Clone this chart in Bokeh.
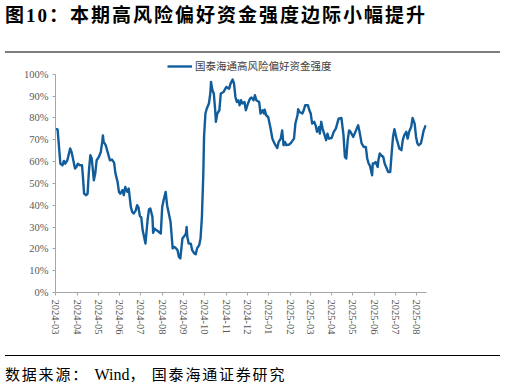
import math
import pandas as pd
from bokeh.plotting import figure
from bokeh.models import (Div, FixedTicker, DatetimeTickFormatter, PrintfTickFormatter,
                          Legend, LegendItem, ColumnDataSource, Range1d)
from bokeh.layouts import column
from bokeh.embed import file_html
from bokeh.resources import INLINE

title_text = "图10：本期高风险偏好资金强度边际小幅提升"
source_text = ("数据来源：&nbsp;<span style=\"letter-spacing:0;font-size:16px\">Wind</span>，"
               "&nbsp;国泰海通证券研究")
series_name = "国泰海通高风险偏好资金强度"

dates = [
    "2024-03-01", "2024-03-04", "2024-03-08", "2024-03-11", "2024-03-13", "2024-03-15", "2024-03-18",
    "2024-03-22", "2024-03-24", "2024-03-26", "2024-03-29", "2024-03-31", "2024-04-02", "2024-04-05",
    "2024-04-08", "2024-04-09", "2024-04-11", "2024-04-14", "2024-04-16", "2024-04-18", "2024-04-20",
    "2024-04-22", "2024-04-25", "2024-04-27", "2024-04-29", "2024-05-02", "2024-05-05", "2024-05-07",
    "2024-05-08", "2024-05-09", "2024-05-12", "2024-05-14", "2024-05-18", "2024-05-21", "2024-05-24",
    "2024-05-26", "2024-05-29", "2024-05-31", "2024-06-02", "2024-06-05", "2024-06-07", "2024-06-09",
    "2024-06-12", "2024-06-14", "2024-06-17", "2024-06-19", "2024-06-21", "2024-06-24", "2024-06-26",
    "2024-06-28", "2024-06-30", "2024-07-02", "2024-07-04", "2024-07-06", "2024-07-08", "2024-07-11",
    "2024-07-13", "2024-07-15", "2024-07-18", "2024-07-19", "2024-07-21", "2024-07-24", "2024-07-27",
    "2024-07-30", "2024-08-01", "2024-08-03", "2024-08-06", "2024-08-08", "2024-08-11", "2024-08-13",
    "2024-08-16", "2024-08-18", "2024-08-20", "2024-08-23", "2024-08-25", "2024-08-27", "2024-08-30",
    "2024-09-01", "2024-09-04", "2024-09-05", "2024-09-06", "2024-09-08", "2024-09-11", "2024-09-13",
    "2024-09-16", "2024-09-18", "2024-09-20", "2024-09-23", "2024-09-25", "2024-09-27", "2024-09-29",
    "2024-09-30", "2024-10-02", "2024-10-04", "2024-10-07", "2024-10-09", "2024-10-10", "2024-10-12",
    "2024-10-14", "2024-10-16", "2024-10-17", "2024-10-19", "2024-10-22", "2024-10-24", "2024-10-28",
    "2024-11-01", "2024-11-05", "2024-11-07", "2024-11-10", "2024-11-12", "2024-11-14", "2024-11-16",
    "2024-11-18", "2024-11-20", "2024-11-22", "2024-11-24", "2024-11-27", "2024-11-29", "2024-12-02",
    "2024-12-05", "2024-12-07", "2024-12-10", "2024-12-12", "2024-12-14", "2024-12-18", "2024-12-20",
    "2024-12-23", "2024-12-25", "2024-12-26", "2024-12-28", "2024-12-31", "2025-01-03", "2025-01-06",
    "2025-01-09", "2025-01-13", "2025-01-15", "2025-01-18", "2025-01-20", "2025-01-22", "2025-01-24",
    "2025-01-26", "2025-01-30", "2025-02-02", "2025-02-06", "2025-02-08", "2025-02-11", "2025-02-12",
    "2025-02-14", "2025-02-18", "2025-02-20", "2025-02-22", "2025-02-26", "2025-02-28", "2025-03-02",
    "2025-03-04", "2025-03-07", "2025-03-09", "2025-03-11", "2025-03-14", "2025-03-15", "2025-03-17",
    "2025-03-19", "2025-03-22", "2025-03-24", "2025-03-26", "2025-03-28", "2025-04-01", "2025-04-04",
    "2025-04-07", "2025-04-09", "2025-04-11", "2025-04-15", "2025-04-18", "2025-04-20", "2025-04-22",
    "2025-04-24", "2025-04-26", "2025-04-28", "2025-05-02", "2025-05-05", "2025-05-09", "2025-05-11",
    "2025-05-14", "2025-05-17", "2025-05-20", "2025-05-22", "2025-05-24", "2025-05-26", "2025-05-29",
    "2025-05-30", "2025-06-01", "2025-06-03", "2025-06-06", "2025-06-07", "2025-06-09", "2025-06-11",
    "2025-06-14", "2025-06-16", "2025-06-19", "2025-06-21", "2025-06-24", "2025-06-26", "2025-06-28",
    "2025-06-30", "2025-07-03", "2025-07-05", "2025-07-07", "2025-07-10", "2025-07-12", "2025-07-14",
    "2025-07-17", "2025-07-19", "2025-07-21", "2025-07-24", "2025-07-26", "2025-07-29", "2025-07-31",
    "2025-08-02", "2025-08-04", "2025-08-07", "2025-08-09", "2025-08-11", "2025-08-14",
]

values = [
    75.0, 74.7, 59.0, 58.3, 60.3, 59.0, 60.6,
    66.0, 64.4, 61.4, 56.8, 57.5, 59.0, 58.3,
    58.3, 54.5, 45.3, 44.6, 45.3, 56.0, 62.9,
    61.4, 51.4, 54.5, 60.6, 62.0, 64.4, 69.0,
    72.0, 69.0, 67.5, 65.2, 60.6, 60.9, 59.5,
    54.5, 50.7, 46.1, 45.3, 46.9, 44.6, 48.4,
    46.1, 47.6, 39.2, 36.9, 36.2, 37.5, 40.0,
    39.0, 35.0, 34.4, 28.5, 25.5, 22.4, 33.1,
    38.0, 38.5, 34.6, 27.3, 29.3, 28.5, 27.8,
    27.0, 39.2, 42.3, 46.1, 40.0, 35.4, 32.3,
    20.2, 20.9, 20.5, 19.4, 16.3, 15.6, 24.7,
    25.5, 27.0, 30.0, 25.5, 22.4, 22.4, 19.4,
    17.9, 17.5, 20.2, 21.7, 24.7, 35.0, 55.0,
    71.3, 82.0, 84.3, 86.6, 91.2, 96.5, 92.7,
    91.2, 83.5, 78.2, 82.0, 83.5, 91.2, 91.9,
    94.2, 93.4, 95.7, 97.6, 95.7, 89.6, 87.3,
    88.1, 85.8, 88.1, 86.6, 87.3, 83.5, 86.6,
    88.9, 89.3, 88.1, 90.4, 88.1, 87.3, 82.0,
    83.5, 82.0, 83.8, 81.2, 80.4, 75.8, 70.5,
    68.3, 66.2, 69.0, 70.5, 74.3, 67.5, 69.0,
    67.5, 67.8, 68.7, 70.5, 77.4, 81.2, 84.0,
    82.7, 82.0, 83.5, 85.8, 85.8, 83.5, 82.0,
    77.4, 78.2, 76.6, 73.6, 75.8, 72.8, 78.2,
    75.1, 72.0, 69.8, 72.8, 70.5, 70.8, 73.6,
    75.1, 77.4, 79.7, 80.0, 72.0, 62.1, 61.4,
    69.8, 74.3, 73.6, 71.3, 73.6, 76.6, 73.6,
    68.3, 66.7, 66.7, 61.4, 59.1, 58.0, 53.7,
    59.1, 59.1, 59.8, 57.5, 60.6, 63.7, 62.9,
    62.1, 59.1, 56.8, 55.2, 55.2, 63.7, 71.3,
    74.8, 70.5, 68.3, 66.0, 65.2, 69.8, 72.0,
    73.6, 70.5, 73.6, 75.8, 80.0, 77.4, 71.3,
    68.3, 67.5, 68.3, 71.3, 74.3, 76.6,
]

month_ticks = ["2024-03", "2024-04", "2024-05", "2024-06", "2024-07", "2024-08", "2024-09",
               "2024-10", "2024-11", "2024-12", "2025-01", "2025-02", "2025-03", "2025-04",
               "2025-05", "2025-06", "2025-07", "2025-08"]
y_ticks = [0, 10, 20, 30, 40, 50, 60, 70, 80, 90, 100]

x_start = "2024-03-01"
x_end = "2025-08-15"

LINE_COLOR = "#115D9B"
LABEL_FONT = "Liberation Serif, Noto Sans CJK SC"

src = ColumnDataSource(data=dict(x=pd.to_datetime(dates), y=values))

p = figure(width=506, height=296, x_axis_type="datetime",
           output_backend="svg", toolbar_location=None,
           min_border_left=55, min_border_right=80, min_border_top=4, min_border_bottom=60,
           x_range=Range1d(pd.Timestamp(x_start), pd.Timestamp(x_end)),
           y_range=Range1d(0, 106.3))
p.outline_line_color = None
p.grid.grid_line_color = None
p.background_fill_color = "white"
p.border_fill_color = "white"

r = p.line("x", "y", source=src, line_color=LINE_COLOR, line_width=2.4, line_join="round")

tick_ms = [pd.Timestamp(m + "-01").value // 10**6 for m in month_ticks]
p.xaxis.ticker = FixedTicker(ticks=tick_ms)
fmt = "%Y-%m"
p.xaxis.formatter = DatetimeTickFormatter(milliseconds=fmt, seconds=fmt, minsec=fmt, minutes=fmt,
                                          hourmin=fmt, hours=fmt, days=fmt, months=fmt, years=fmt)
p.xaxis.major_label_orientation = -math.pi / 2
p.yaxis.ticker = FixedTicker(ticks=y_ticks)
p.yaxis.formatter = PrintfTickFormatter(format="%d%%")
p.yaxis.bounds = (0, 100)

for ax in (p.xaxis[0], p.yaxis[0]):
    ax.axis_line_color = "#a6a6a6"
    ax.axis_line_width = 1
    ax.major_tick_line_color = "#a6a6a6"
    ax.major_tick_in = 0
    ax.major_tick_out = 3
    ax.minor_tick_line_color = None
    ax.major_label_text_font = LABEL_FONT
    ax.major_label_text_font_size = "10.5px"
    ax.major_label_text_color = "#595959"
    ax.major_label_standoff = 4

legend = Legend(items=[LegendItem(label=series_name, renderers=[r])],
                location=(112, 219), padding=0, margin=0, spacing=0,
                glyph_width=25, glyph_height=12, label_standoff=3,
                label_text_font=LABEL_FONT, label_text_font_size="10.5px",
                label_text_color="#404040", background_fill_alpha=0,
                border_line_color=None, label_height=12)
p.add_layout(legend, "center")

title = Div(text=(
    "<div style=\"box-sizing:border-box;margin-left:5px;width:495px;height:53px;padding-top:6px;"
    "border-bottom:2px solid #7f7f7f;font-family:'Liberation Serif','Noto Sans CJK SC';"
    "font-weight:bold;font-size:19px;line-height:20px;color:#000;letter-spacing:2px;"
    "white-space:nowrap;\">" + title_text + "</div>"),
    width=506, height=56, margin=0)

footer = Div(text=(
    "<div style=\"box-sizing:border-box;margin-left:5px;margin-top:3px;width:495px;padding-top:11px;"
    "border-top:1px solid #000;font-family:'Liberation Serif','Noto Sans CJK SC';"
    "font-size:15px;line-height:16px;color:#000;letter-spacing:1.8px;white-space:nowrap;\">"
    + source_text + "</div>"),
    width=506, height=35, margin=0)

layout = column(title, p, footer, spacing=0, margin=0)

with open("out.html", "w") as f:
    f.write(file_html(layout, INLINE))
